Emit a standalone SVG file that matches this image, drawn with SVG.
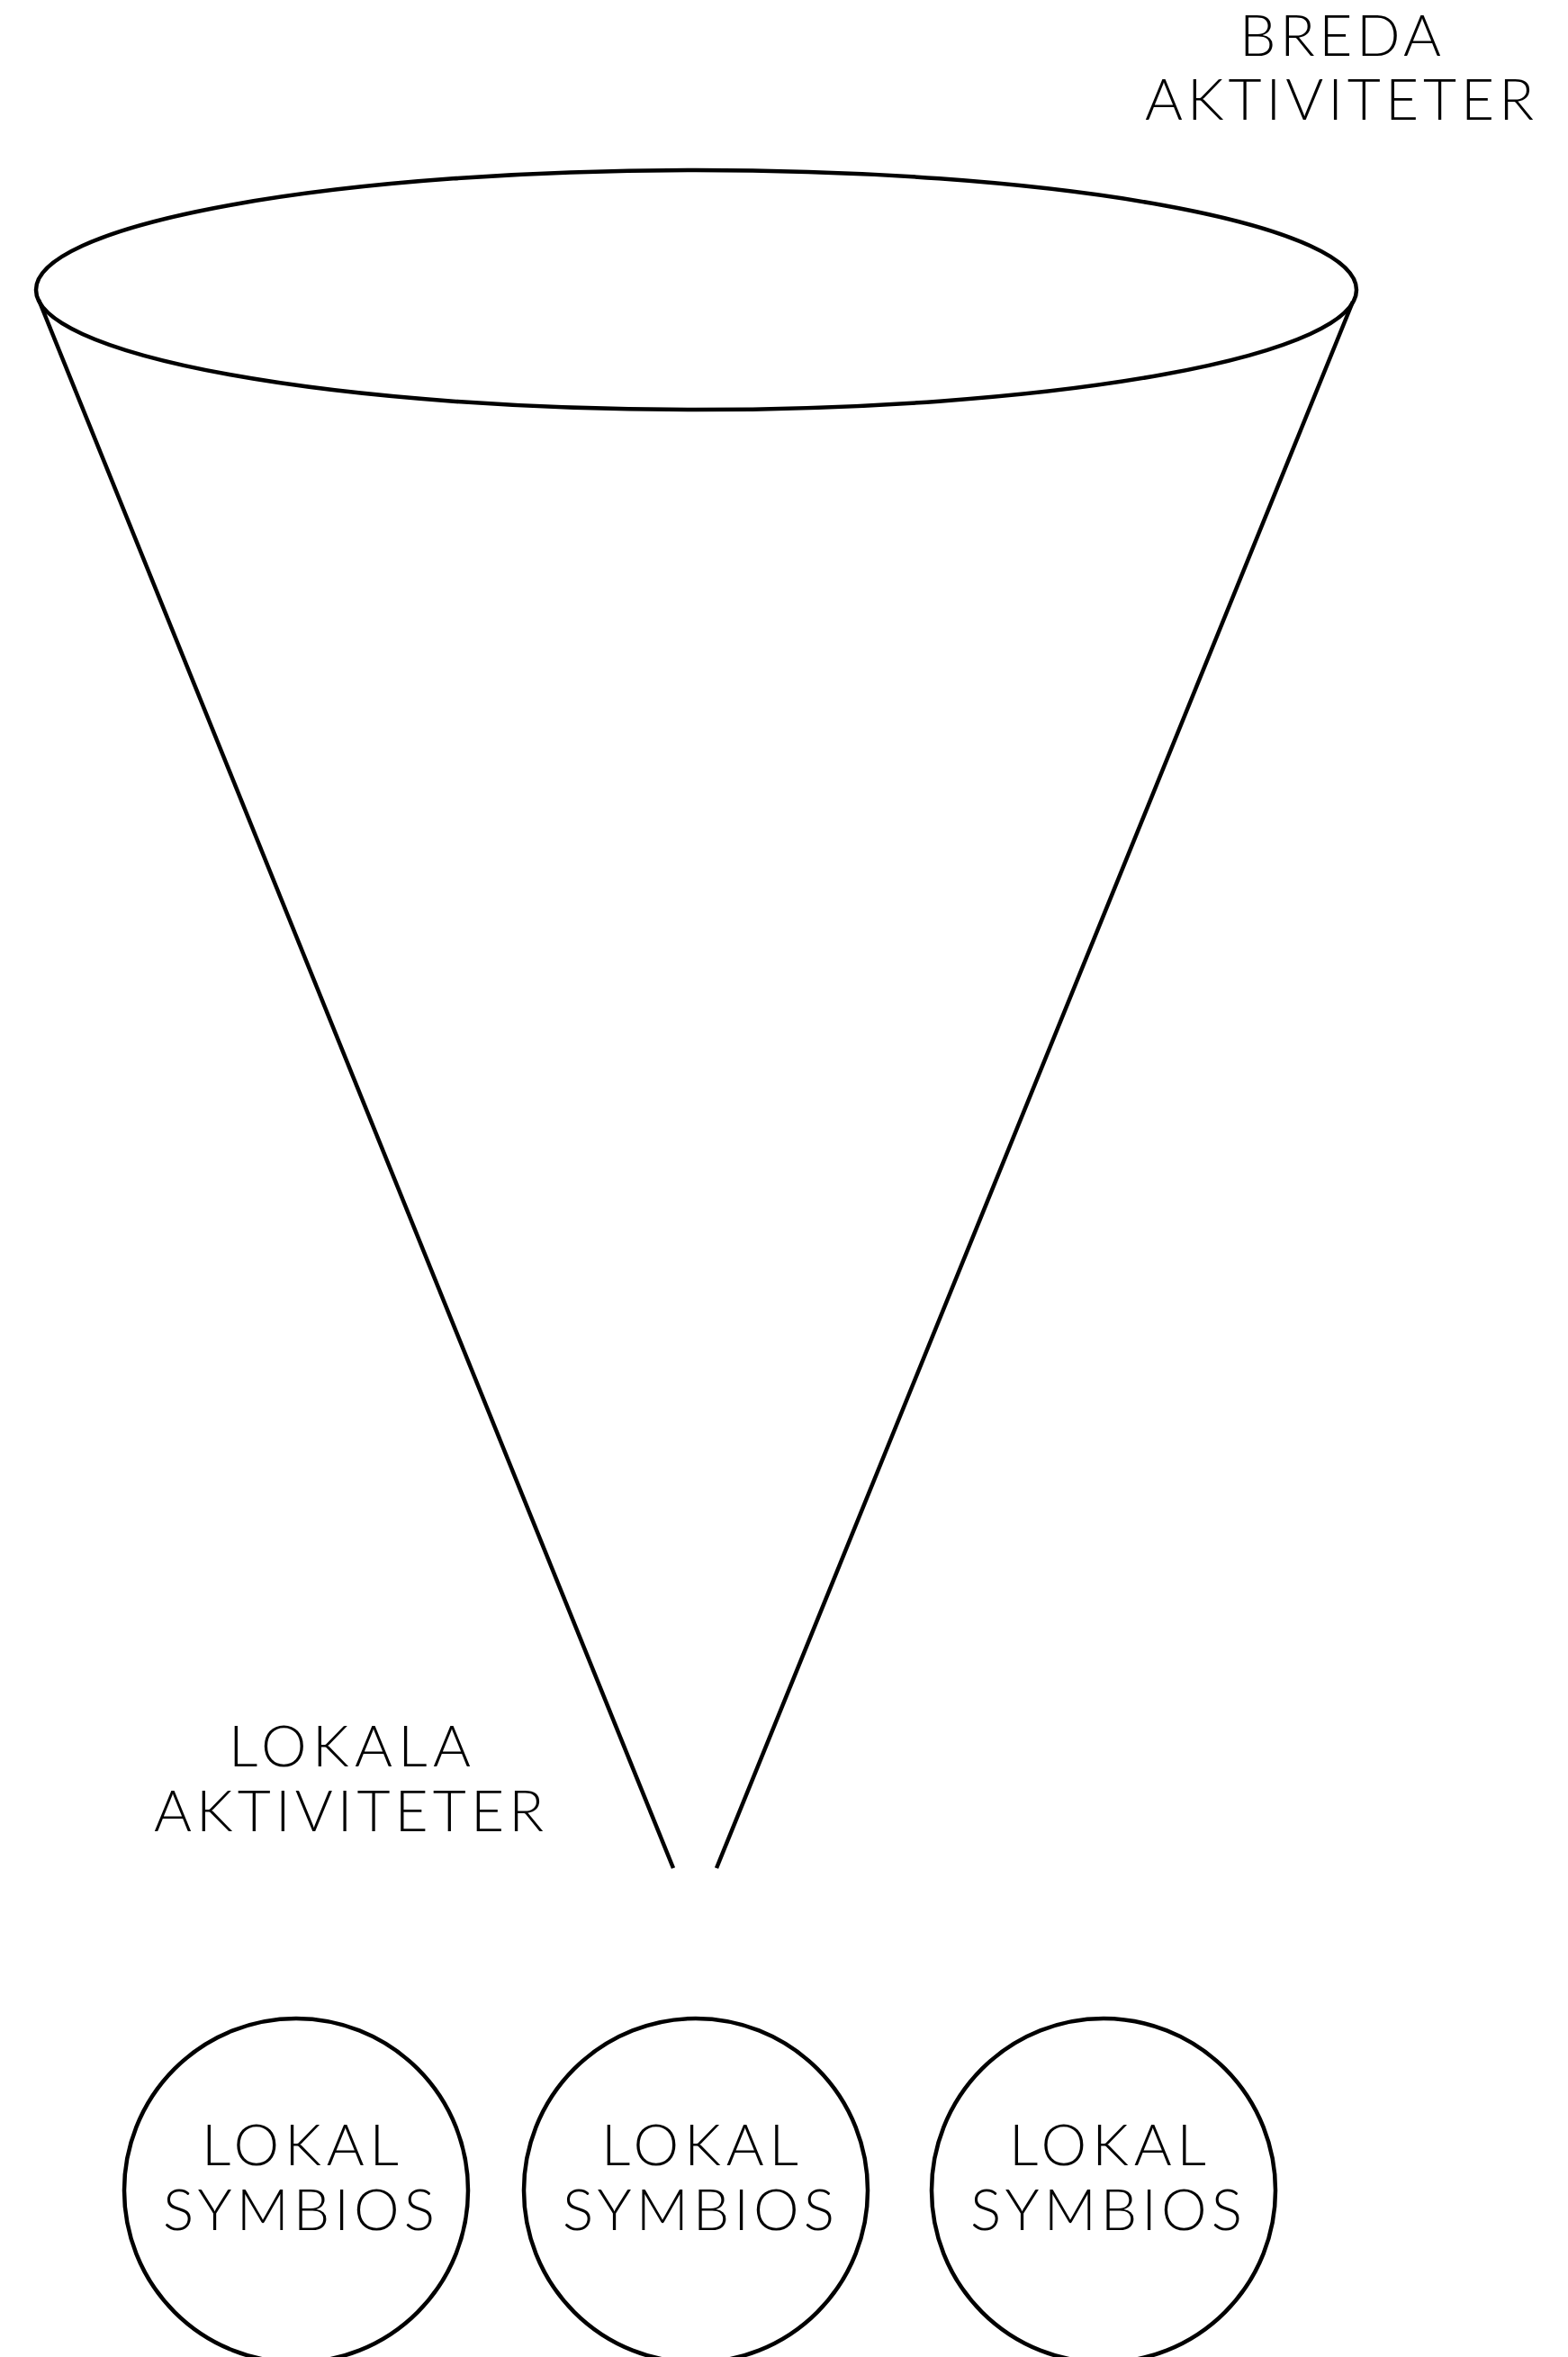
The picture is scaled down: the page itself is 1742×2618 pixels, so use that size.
<svg xmlns="http://www.w3.org/2000/svg" width="1742" height="2618" viewBox="0 0 1742 2618">
<style>
.s{fill:none;stroke:#000;stroke-width:4.5}
.t{font-family:Lato,"Open Sans","Liberation Sans",sans-serif;font-weight:300;font-size:64px;fill:#000}
</style>
<rect width="1742" height="2618" fill="#fff"/>
<g id="connectors">
<line class="s" x1="43" y1="333" x2="748" y2="2075"/>
<line class="s" x1="1503" y1="335" x2="796" y2="2075"/>
</g>
<g id="funnel-top">
<ellipse class="s" cx="773.5" cy="322" rx="733.5" ry="133"/>
</g>
<g id="label-breda">
<text class="t" x="1377" y="62" textLength="224" lengthAdjust="spacing">BREDA</text>
<text class="t" x="1272" y="133" textLength="432" lengthAdjust="spacing">AKTIVITETER</text>
</g>
<g id="label-lokala">
<text class="t" x="254" y="1962" textLength="269" lengthAdjust="spacing">LOKALA</text>
<text class="t" x="171" y="2034" textLength="433" lengthAdjust="spacing">AKTIVITETER</text>
</g>
<g id="node-1">
<circle class="s" cx="329" cy="2433" r="191"/>
<text class="t" x="224" y="2405" textLength="219" lengthAdjust="spacing">LOKAL</text>
<text class="t" x="181" y="2477" textLength="302" lengthAdjust="spacing">SYMBIOS</text>
</g>
<g id="node-2">
<circle class="s" cx="773" cy="2433" r="191"/>
<text class="t" x="668" y="2405" textLength="219" lengthAdjust="spacing">LOKAL</text>
<text class="t" x="625" y="2477" textLength="302" lengthAdjust="spacing">SYMBIOS</text>
</g>
<g id="node-3">
<circle class="s" cx="1226" cy="2433" r="191"/>
<text class="t" x="1121" y="2405" textLength="219" lengthAdjust="spacing">LOKAL</text>
<text class="t" x="1078" y="2477" textLength="302" lengthAdjust="spacing">SYMBIOS</text>
</g>
</svg>
